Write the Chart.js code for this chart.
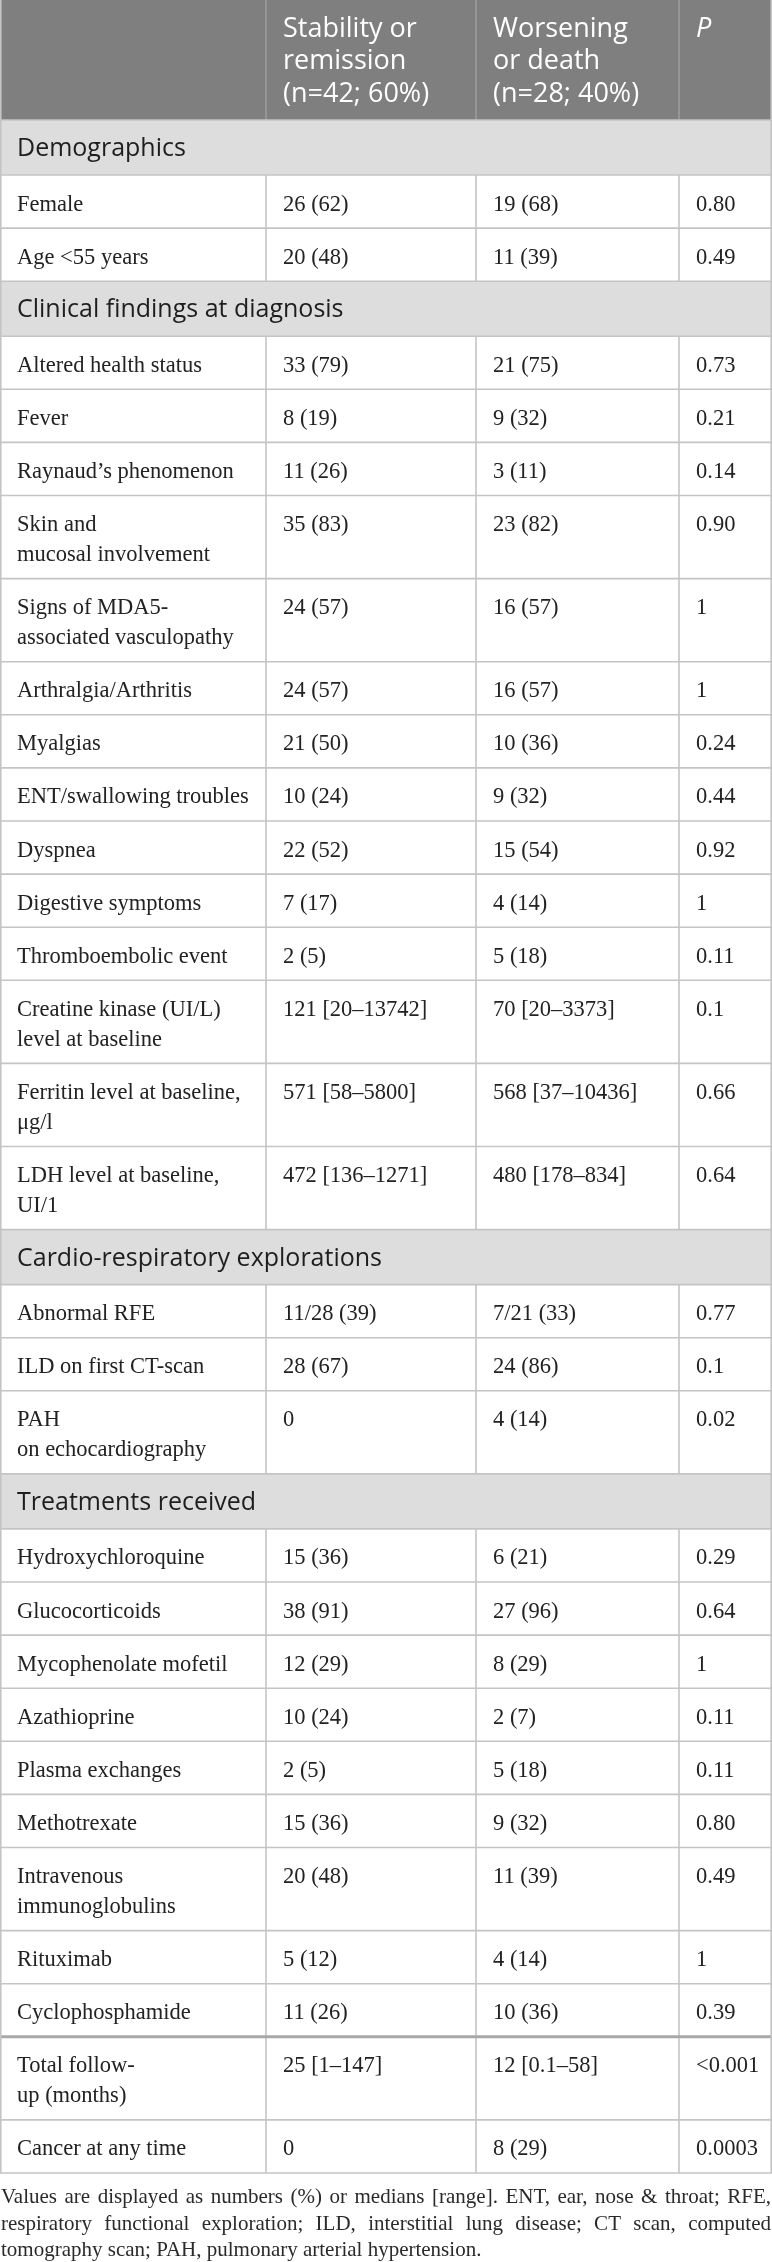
<!DOCTYPE html>
<html>
<head>
<meta charset="utf-8">
<script src="https://cdn.jsdelivr.net/npm/chart.js@4.4.0/dist/chart.umd.min.js"></script>
<style>
html,body{margin:0;padding:0;background:#ffffff;}
#wrap{width:772px;height:2262px;position:relative;overflow:hidden;}
canvas{display:block;}
</style>
</head>
<body>
<div id="wrap"><canvas id="c" width="772" height="2262"></canvas></div>
<script>
// ---------------- DATA ----------------
const columnHeaders = ["", "Stability or\nremission\n(n=42; 60%)", "Worsening\nor death\n(n=28; 40%)", "P"];
const sectionTitles = ["Demographics", "Clinical findings at diagnosis", "Cardio-respiratory explorations", "Treatments received"];
const sectionStartRows = [0, 2, 16, 19];
const rowLabels = [
  "Female", "Age <55 years",
  "Altered health status", "Fever", "Raynaud\u2019s phenomenon", "Skin and\nmucosal involvement",
  "Signs of MDA5-\nassociated vasculopathy", "Arthralgia/Arthritis", "Myalgias", "ENT/swallowing troubles",
  "Dyspnea", "Digestive symptoms", "Thromboembolic event", "Creatine kinase (UI/L)\nlevel at baseline",
  "Ferritin level at baseline,\n\u03bcg/l", "LDH level at baseline,\nUI/1",
  "Abnormal RFE", "ILD on first CT-scan", "PAH\non echocardiography",
  "Hydroxychloroquine", "Glucocorticoids", "Mycophenolate mofetil", "Azathioprine", "Plasma exchanges",
  "Methotrexate", "Intravenous\nimmunoglobulins", "Rituximab", "Cyclophosphamide",
  "Total follow-\nup (months)", "Cancer at any time"
];
const stabilityValues = [
  "26 (62)", "20 (48)",
  "33 (79)", "8 (19)", "11 (26)", "35 (83)", "24 (57)", "24 (57)", "21 (50)", "10 (24)",
  "22 (52)", "7 (17)", "2 (5)", "121 [20\u201313742]", "571 [58\u20135800]", "472 [136\u20131271]",
  "11/28 (39)", "28 (67)", "0",
  "15 (36)", "38 (91)", "12 (29)", "10 (24)", "2 (5)", "15 (36)", "20 (48)", "5 (12)", "11 (26)",
  "25 [1\u2013147]", "0"
];
const worseningValues = [
  "19 (68)", "11 (39)",
  "21 (75)", "9 (32)", "3 (11)", "23 (82)", "16 (57)", "16 (57)", "10 (36)", "9 (32)",
  "15 (54)", "4 (14)", "5 (18)", "70 [20\u20133373]", "568 [37\u201310436]", "480 [178\u2013834]",
  "7/21 (33)", "24 (86)", "4 (14)",
  "6 (21)", "27 (96)", "8 (29)", "2 (7)", "5 (18)", "9 (32)", "11 (39)", "4 (14)", "10 (36)",
  "12 [0.1\u201358]", "8 (29)"
];
const pValues = [
  "0.80", "0.49",
  "0.73", "0.21", "0.14", "0.90", "1", "1", "0.24", "0.44",
  "0.92", "1", "0.11", "0.1", "0.66", "0.64",
  "0.77", "0.1", "0.02",
  "0.29", "0.64", "1", "0.11", "0.11", "0.80", "0.49", "1", "0.39",
  "<0.001", "0.0003"
];
const thickRuleBeforeRow = 28;
const footnoteLines = [
  "Values are displayed as numbers (%) or medians [range]. ENT, ear, nose & throat; RFE,",
  "respiratory functional exploration; ILD, interstitial lung disease; CT scan, computed",
  "tomography scan; PAH, pulmonary arterial hypertension."
];

// ---------------- LAYOUT / STYLE ----------------
const W = 772, H = 2262;
const colEdges = [0, 266, 476, 679, 772];
const textInset = 17;
const HEADER_H = 120, SECTION_H = 55, LINE_H = 30, ROW_BASE = 53.1, HEAD_LINE = 32.5;
const SANS = '"Open Sans", "Noto Sans", sans-serif';
const SERIF = '"Liberation Serif", "Times New Roman", serif';
const BODY_FONT = '22.5px ' + SERIF;
const HEAD_FONT = '27px ' + SANS;
const SECTION_FONT = '25px ' + SANS;

function buildLayout() {
  const items = [];
  let y = 0;
  items.push({type: 'header', y0: y, y1: y + HEADER_H});
  y += HEADER_H;
  for (let r = 0; r < rowLabels.length; r++) {
    const s = sectionStartRows.indexOf(r);
    if (s >= 0) {
      items.push({type: 'section', title: sectionTitles[s], y0: y, y1: y + SECTION_H});
      y += SECTION_H;
    }
    const nLines = rowLabels[r].split('\n').length;
    const h = ROW_BASE + (nLines - 1) * LINE_H;
    items.push({type: 'row', idx: r, y0: y, y1: y + h, thick: r === thickRuleBeforeRow});
    y += h;
  }
  return {items, tableEnd: y};
}

const tablePlugin = {
  id: 'tablePlugin',
  afterDraw(chart) {
    const ctx = chart.ctx;
    const xs = chart.scales.x, ys = chart.scales.y;
    const X = v => xs.getPixelForValue(v);
    const Y = v => ys.getPixelForValue(v);
    const {items, tableEnd} = buildLayout();
    ctx.save();
    ctx.textBaseline = 'alphabetic';
    ctx.textAlign = 'left';

    // backgrounds
    items.forEach(it => {
      if (it.type === 'header') { ctx.fillStyle = '#7f7f7f'; ctx.fillRect(X(0), Y(it.y0), X(W) - X(0), Y(it.y1) - Y(it.y0)); }
      if (it.type === 'section') { ctx.fillStyle = '#dddddd'; ctx.fillRect(X(0), Y(it.y0), X(W) - X(0), Y(it.y1) - Y(it.y0)); }
    });

    // grid lines
    ctx.lineWidth = 1.6;
    items.forEach(it => {
      if (it.type === 'header') {
        ctx.strokeStyle = '#9c9c9c';
        for (let c = 1; c < colEdges.length - 1; c++) {
          ctx.beginPath(); ctx.moveTo(X(colEdges[c]), Y(it.y0)); ctx.lineTo(X(colEdges[c]), Y(it.y1)); ctx.stroke();
        }
      } else if (it.type === 'row') {
        ctx.strokeStyle = '#c4c4c4';
        for (let c = 1; c < colEdges.length - 1; c++) {
          ctx.beginPath(); ctx.moveTo(X(colEdges[c]), Y(it.y0)); ctx.lineTo(X(colEdges[c]), Y(it.y1)); ctx.stroke();
        }
      }
      if (it.type !== 'header') {
        ctx.strokeStyle = it.thick ? '#a8a8a8' : '#c4c4c4';
        ctx.lineWidth = it.thick ? 3 : 1.6;
        ctx.beginPath(); ctx.moveTo(X(0), Y(it.y0)); ctx.lineTo(X(W), Y(it.y0)); ctx.stroke();
        ctx.lineWidth = 1.6;
      }
    });
    // outer borders
    ctx.strokeStyle = '#c4c4c4';
    ctx.beginPath(); ctx.moveTo(X(0.8), Y(0)); ctx.lineTo(X(0.8), Y(tableEnd)); ctx.stroke();
    ctx.beginPath(); ctx.moveTo(X(W - 0.8), Y(0)); ctx.lineTo(X(W - 0.8), Y(tableEnd)); ctx.stroke();
    ctx.beginPath(); ctx.moveTo(X(0), Y(tableEnd)); ctx.lineTo(X(W), Y(tableEnd)); ctx.stroke();

    // texts
    items.forEach(it => {
      if (it.type === 'header') {
        ctx.fillStyle = '#ffffff';
        for (let c = 1; c < columnHeaders.length; c++) {
          ctx.font = (c === 3 ? 'italic ' : '') + HEAD_FONT;
          columnHeaders[c].split('\n').forEach((ln, k) => {
            ctx.fillText(ln, X(colEdges[c] + textInset), Y(it.y0 + 36.5 + k * HEAD_LINE));
          });
        }
      } else if (it.type === 'section') {
        ctx.fillStyle = '#1e1e1e';
        ctx.font = SECTION_FONT;
        ctx.fillText(it.title, X(textInset), Y(it.y0 + 36));
      } else {
        ctx.fillStyle = '#222222';
        ctx.font = BODY_FONT;
        const cells = [rowLabels[it.idx], stabilityValues[it.idx], worseningValues[it.idx], pValues[it.idx]];
        cells.forEach((txt, c) => {
          txt.split('\n').forEach((ln, k) => {
            ctx.fillText(ln, X(colEdges[c] + textInset), Y(it.y0 + 35.5 + k * LINE_H));
          });
        });
      }
    });

    // footnote (justified)
    ctx.fillStyle = '#2a2a2a';
    ctx.font = '21px ' + SERIF;
    const fBase = tableEnd + 30;
    footnoteLines.forEach((ln, k) => {
      const yb = Y(fBase + k * 26.5);
      const words = ln.split(' ');
      const last = k === footnoteLines.length - 1;
      if (last) { ctx.fillText(ln, X(1), yb); return; }
      const wordsW = words.reduce((a, w) => a + ctx.measureText(w).width, 0);
      const gap = (X(W - 1) - X(1) - wordsW) / (words.length - 1);
      let cx = X(1);
      words.forEach(w => { ctx.fillText(w, cx, yb); cx += ctx.measureText(w).width + gap; });
    });
    ctx.restore();
  }
};

new Chart(document.getElementById('c'), {
  type: 'scatter',
  data: { datasets: [{ data: [], pointRadius: 0 }] },
  options: {
    responsive: false,
    animation: false,
    events: [],
    layout: { padding: 0 },
    plugins: { legend: { display: false }, tooltip: { enabled: false }, title: { display: false } },
    scales: {
      x: { type: 'linear', min: 0, max: W, display: false },
      y: { type: 'linear', min: 0, max: H, reverse: true, display: false }
    }
  },
  plugins: [tablePlugin]
});
</script>
</body>
</html>
